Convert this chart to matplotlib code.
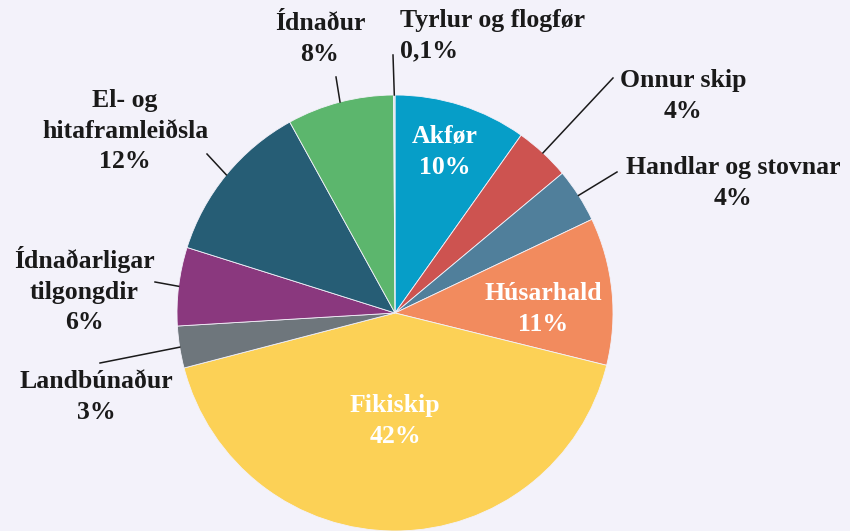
import numpy as np
import matplotlib.pyplot as plt

# Share of emissions by source (%), clockwise from 12 o'clock
sources = ["Akfør", "Onnur skip", "Handlar og stovnar", "Húsarhald", "Fikiskip",
           "Landbúnaður", "Ídnaðarligar\ntilgongdir", "El- og\nhitaframleiðsla",
           "Ídnaður", "Tyrlur og flogfør"]
shares = [9.8, 4.1, 4.0, 10.9, 42.0, 3.1, 5.8, 12.1, 7.9, 0.1]
pct_labels = ["10%", "4%", "4%", "11%", "42%", "3%", "6%", "12%", "8%", "0,1%"]
colors = ["#069ec8", "#cd5350", "#507f9b", "#f28b5e", "#fcd156",
          "#6e767c", "#8a387e", "#265d75", "#5cb66d", "#d9d9d9"]

bg = "#f3f2fa"
H = 531
fig = plt.figure(figsize=(8.5, 5.31), dpi=100)
fig.patch.set_facecolor(bg)
ax = fig.add_axes([0, 0, 1, 1])
ax.set_facecolor(bg)

cx, cy, r = 395, H - 313, 218
wedges, _ = ax.pie(shares, colors=colors, startangle=90, counterclock=False,
                   center=(cx, cy), radius=r, frame=True,
                   wedgeprops=dict(edgecolor=bg, linewidth=0.6))
ax.set_xlim(0, 850)
ax.set_ylim(0, H)
ax.set_aspect("equal")
ax.axis("off")

font = dict(family="Liberation Serif", fontweight="bold", fontsize=18.5)

# label placement in pixel coords from top: (x, y, ha, inside, leader end point)
layout = {
    0: (445, 152, "center", True, None),
    1: (683, 96, "center", False, (613, 78)),
    2: (733, 183, "center", False, (617, 172)),
    3: (543, 309, "center", True, None),
    4: (395, 421, "center", True, None),
    5: (96, 397, "center", False, (100, 363)),
    6: (84, 290, "center", False, (155, 282)),
    7: (125, 131, "center", False, (207, 154)),
    8: (320, 39, "center", False, (336, 77)),
    9: (400, 36, "left", False, (393, 55)),
}

for i, w in enumerate(wedges):
    x, y, ha, inside, end = layout[i]
    txt = sources[i] + "\n" + pct_labels[i]
    color = "white" if inside else "#1a1a1a"
    ax.text(x, H - y, txt, ha=ha, va="center", color=color,
            linespacing=1.42, **font)
    if end is not None:
        mid = np.deg2rad((w.theta1 + w.theta2) / 2)
        px = cx + r * np.cos(mid)
        py = cy + r * np.sin(mid)
        ax.plot([px, end[0]], [py, H - end[1]], color="#1a1a1a", lw=1.1)

fig.savefig("out.png", dpi=100, facecolor=bg)
